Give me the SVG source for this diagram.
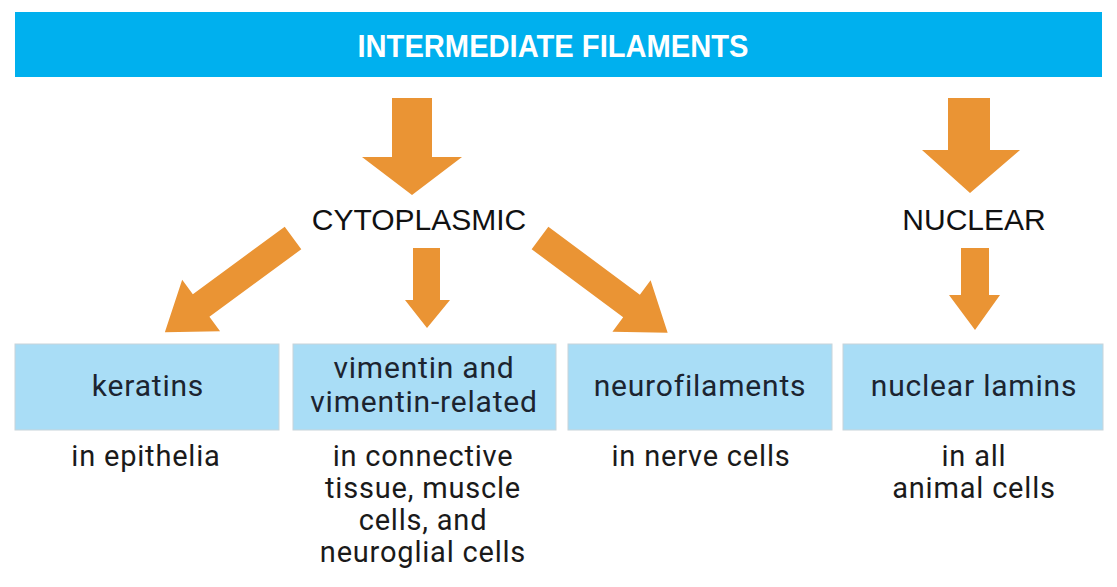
<svg xmlns="http://www.w3.org/2000/svg" width="1117" height="587" viewBox="0 0 1117 587">
<style>
.arrow{fill:#ea9434}
.box{fill:#a9ddf6;stroke:#c8d4da;stroke-width:1}
.bt{font-family:Roboto,"Liberation Sans",sans-serif;font-size:30px;letter-spacing:0.8px;fill:#1c2430;text-anchor:middle}
.lt{font-family:Roboto,"Liberation Sans",sans-serif;font-size:29px;letter-spacing:0.8px;fill:#1a1a1a;text-anchor:middle}
.ht{font-family:"Liberation Sans",Arial,sans-serif;font-size:30px;fill:#111;text-anchor:middle}
</style>
<rect width="1117" height="587" fill="#fff"/>
<g id="title">
<rect x="15" y="12" width="1087" height="65" fill="#00b0ee"/>
<text x="553" y="57" font-family="'Liberation Sans',Arial,sans-serif" font-weight="bold" font-size="31" fill="#fff" text-anchor="middle" textLength="391" lengthAdjust="spacingAndGlyphs">INTERMEDIATE FILAMENTS</text>
</g>
<g id="connectors">
<polygon class="arrow" points="392,98 432,98 432,157 462,157 412,195 362,157 392,157"/>
<polygon class="arrow" points="948,98 990,98 990,150 1020,150 970,193 922,150 948,150"/>
<polygon class="arrow" points="413,248 440,248 440,300 450,300 427,328 405,300 413,300"/>
<polygon class="arrow" points="961,248 989,248 989,295 1000,295 975,330 949,295 961,295"/>
<polygon class="arrow" transform="translate(293,238) rotate(143.7)" points="0,-14 114,-14 114,-32 159,0 114,32 114,14 0,14"/>
<polygon class="arrow" transform="translate(540,238) rotate(36.6)" points="0,-14 114,-14 114,-32 159,0 114,32 114,14 0,14"/>
</g>
<g id="cytoplasmic"><text class="ht" x="419" y="230">CYTOPLASMIC</text></g>
<g id="nuclear"><text class="ht" x="974" y="230">NUCLEAR</text></g>
<g id="keratins">
<rect class="box" x="15" y="344" width="264" height="86"/>
<text class="bt" x="148" y="396">keratins</text>
<text class="lt" x="146" y="466">in epithelia</text>
</g>
<g id="vimentin">
<rect class="box" x="293" y="344" width="263" height="86"/>
<text class="bt" x="424" y="378">vimentin and</text>
<text class="bt" x="424" y="412">vimentin-related</text>
<text class="lt" x="423" y="466">in connective</text>
<text class="lt" x="423" y="498">tissue, muscle</text>
<text class="lt" x="423" y="530">cells, and</text>
<text class="lt" x="423" y="562">neuroglial cells</text>
</g>
<g id="neurofilaments">
<rect class="box" x="568" y="344" width="264" height="86"/>
<text class="bt" x="700" y="396">neurofilaments</text>
<text class="lt" x="701" y="466">in nerve cells</text>
</g>
<g id="nuclear-lamins">
<rect class="box" x="843" y="344" width="260" height="86"/>
<text class="bt" x="974" y="396">nuclear lamins</text>
<text class="lt" x="974" y="466">in all</text>
<text class="lt" x="974" y="498">animal cells</text>
</g>
</svg>
